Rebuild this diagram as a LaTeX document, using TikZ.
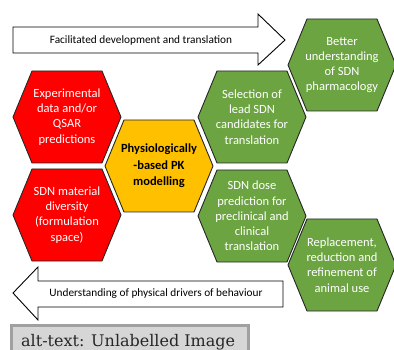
\documentclass[tikz,border=0pt]{standalone}
\usepackage{fontspec}
\setmainfont{Carlito}
\newfontfamily\altfont{DejaVu Serif}
\definecolor{hexred}{RGB}{255,0,0}
\definecolor{hexyel}{RGB}{255,192,0}
\definecolor{hexgrn}{RGB}{108,164,66}
\definecolor{altfill}{RGB}{214,214,214}
\definecolor{altline}{RGB}{160,160,160}
\tikzset{
  hexline/.style={draw=black!85, line width=0.9pt, line join=miter},
  arrowline/.style={draw=black, line width=0.9pt, fill=white, line join=miter},
  hextext/.style={align=center, font=\fontsize{12.5}{15.2}\selectfont, text=white, inner sep=0pt},
  arrtext/.style={font=\fontsize{11.3}{13}\selectfont, inner sep=0pt},
}
% name, cx, cy, fill, text style, text
\newcommand\hexa[6]{%
  \draw[hexline, fill=#4] ({#2-54},{#3}) -- ({#2-35},{#3-46}) -- ({#2+35},{#3-46})
    -- ({#2+54},{#3}) -- ({#2+35},{#3+46}) -- ({#2-35},{#3+46}) -- cycle;
  \node[hextext, #5] (#1) at (#2,#3) {#6};
}
\begin{document}
\begin{tikzpicture}[x=1pt, y=-1pt]
\useasboundingbox (0,0) rectangle (394,350);
\clip (0,0) rectangle (394,350);
% top arrow
\draw[arrowline] (13,27) -- (258,27) -- (258,14) -- (285,40) -- (258,65) -- (258,53) -- (13,53) -- cycle;
\node[arrtext] (toptext) at (141,40) {Facilitated development and translation};
% bottom arrow
\draw[arrowline] (13,293) -- (38,267) -- (38,281) -- (283,281) -- (283,307) -- (38,307) -- (38,320) -- cycle;
\node[arrtext] (bottext) at (156,294) {Understanding of physical drivers of behaviour};
% hexagons
\hexa{exp}{67}{117}{hexred}{}{Experimental\\data and/or\\QSAR\\predictions}
\hexa{div}{67}{215}{hexred}{}{SDN material\\diversity\\(formulation\\space)}
\hexa{pbpk}{159}{166}{hexyel}{text=black, font=\bfseries\fontsize{12.5}{16.5}\selectfont}{Physiologically\\-based PK\\modelling}
\hexa{sel}{252}{117}{hexgrn}{}{Selection of\\lead SDN\\candidates for\\translation}
\hexa{dose}{252}{216}{hexgrn}{}{SDN dose\\prediction for\\preclinical and\\clinical\\translation}
\hexa{better}{342}{65}{hexgrn}{}{Better\\understanding\\of SDN\\pharmacology}
\hexa{repl}{342}{265}{hexgrn}{}{Replacement,\\reduction and\\refinement of\\animal use}
% alt-text box
\draw[fill=altfill, draw=altline, line width=3pt] (11.5,325.5) rectangle (248.5,356);
\node[anchor=base west, inner sep=0pt, text=black!85, font=\altfont\fontsize{16}{18}\selectfont] (alt) at (21,346) {alt-text: Unlabelled Image};
\end{tikzpicture}
\end{document}
